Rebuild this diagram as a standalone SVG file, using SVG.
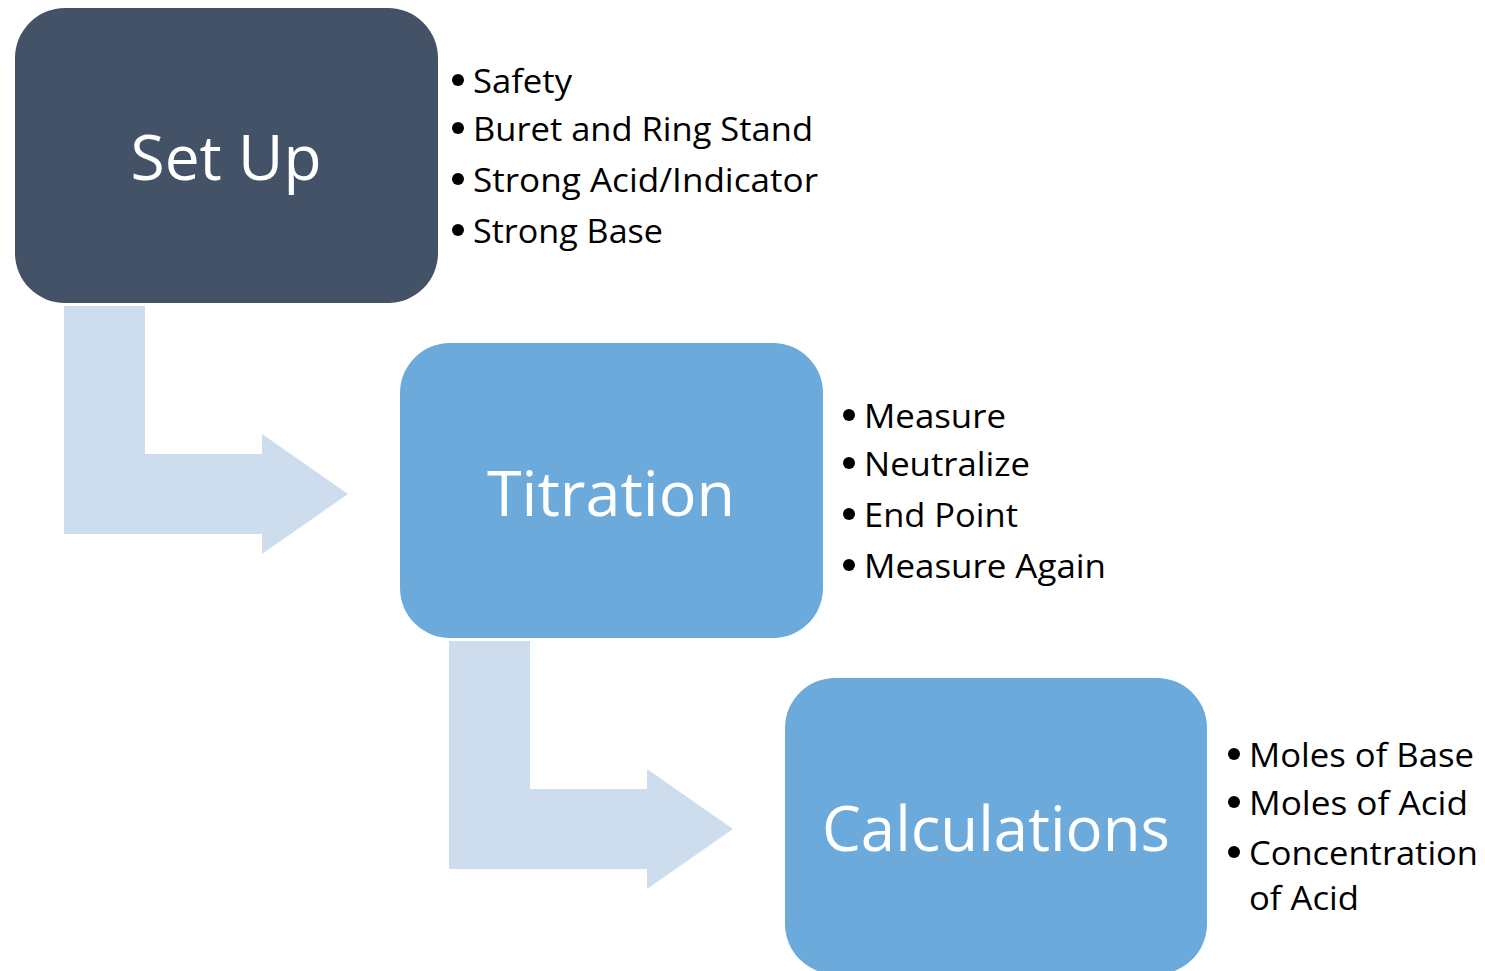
<svg xmlns="http://www.w3.org/2000/svg" width="1485" height="971" viewBox="0 0 1485 971">
<style>
.arrow{fill:#CEDDED}
.dark{fill:#435266}
.light{fill:#6CAADB}
.title{font-family:"Open Sans","Liberation Sans",sans-serif;font-size:63px;fill:#ffffff;text-anchor:middle}
.item{font-family:"Open Sans","Liberation Sans",sans-serif;font-size:33px;fill:#000000}
.dot{fill:#000000}
</style>
<rect width="1485" height="971" fill="#ffffff"/>
<g id="connectors">
<path class="arrow" d="M64,306 H145 V454 H262 V434 L348,494 L262,554 V534 H64 Z"/>
<path class="arrow" d="M449,641 H530 V789 H647 V769 L733,829 L647,889 V869 H449 Z"/>
</g>
<g id="setup">
<rect class="dark" x="15" y="8" width="423" height="295" rx="50" ry="50"/>
<text class="title" x="226" y="180" textLength="191" lengthAdjust="spacingAndGlyphs">Set Up</text>
</g>
<g id="setup-list">
<circle class="dot" cx="458" cy="80" r="6"/>
<text class="item" x="473" y="93" textLength="99" lengthAdjust="spacingAndGlyphs">Safety</text>
<circle class="dot" cx="458" cy="128" r="6"/>
<text class="item" x="473" y="141" textLength="340" lengthAdjust="spacingAndGlyphs">Buret and Ring Stand</text>
<circle class="dot" cx="458" cy="179" r="6"/>
<text class="item" x="473" y="192" textLength="345" lengthAdjust="spacingAndGlyphs">Strong Acid/Indicator</text>
<circle class="dot" cx="458" cy="230" r="6"/>
<text class="item" x="473" y="243" textLength="190" lengthAdjust="spacingAndGlyphs">Strong Base</text>
</g>
<g id="titration">
<rect class="light" x="400" y="343" width="423" height="295" rx="50" ry="50"/>
<text class="title" x="611" y="516" textLength="248" lengthAdjust="spacingAndGlyphs">Titration</text>
</g>
<g id="titration-list">
<circle class="dot" cx="849" cy="415" r="6"/>
<text class="item" x="864" y="428" textLength="142" lengthAdjust="spacingAndGlyphs">Measure</text>
<circle class="dot" cx="849" cy="463" r="6"/>
<text class="item" x="864" y="476" textLength="166" lengthAdjust="spacingAndGlyphs">Neutralize</text>
<circle class="dot" cx="849" cy="514" r="6"/>
<text class="item" x="864" y="527" textLength="154" lengthAdjust="spacingAndGlyphs">End Point</text>
<circle class="dot" cx="849" cy="565" r="6"/>
<text class="item" x="864" y="578" textLength="242" lengthAdjust="spacingAndGlyphs">Measure Again</text>
</g>
<g id="calculations">
<rect class="light" x="785" y="678" width="422" height="296" rx="50" ry="50"/>
<text class="title" x="996" y="851" textLength="348" lengthAdjust="spacingAndGlyphs">Calculations</text>
</g>
<g id="calculations-list">
<circle class="dot" cx="1234" cy="754" r="6"/>
<text class="item" x="1249" y="767" textLength="225" lengthAdjust="spacingAndGlyphs">Moles of Base</text>
<circle class="dot" cx="1234" cy="802" r="6"/>
<text class="item" x="1249" y="815" textLength="219" lengthAdjust="spacingAndGlyphs">Moles of Acid</text>
<circle class="dot" cx="1234" cy="852" r="6"/>
<text class="item" x="1249" y="865" textLength="229" lengthAdjust="spacingAndGlyphs">Concentration</text>
<text class="item" x="1249" y="910" textLength="110" lengthAdjust="spacingAndGlyphs">of Acid</text>
</g>
</svg>
